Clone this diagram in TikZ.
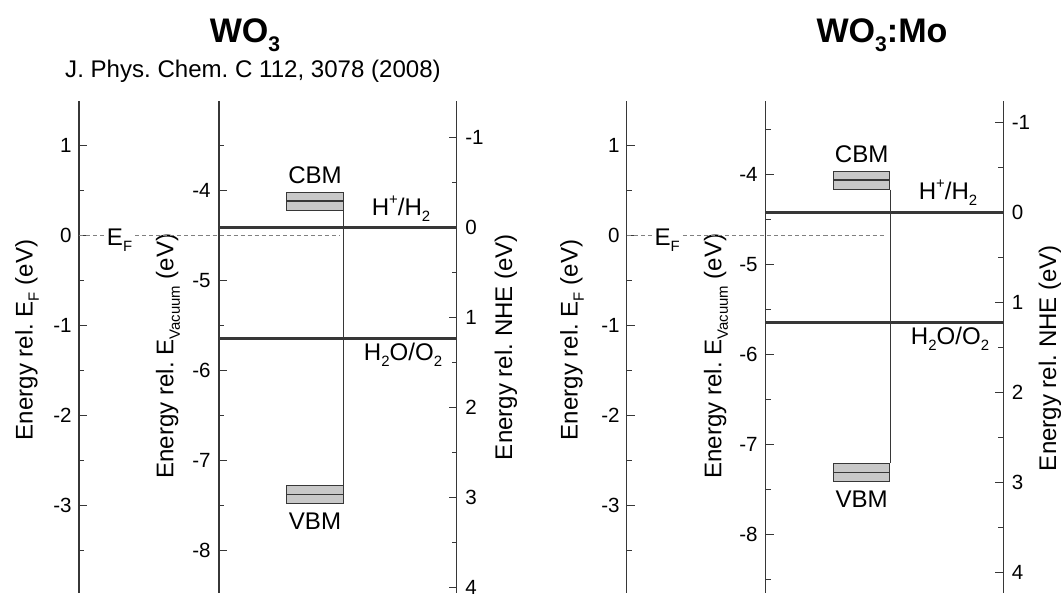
\documentclass[tikz,border=0pt]{standalone}
\usepackage{fontspec}
\setmainfont{Liberation Sans}
\usepackage{graphicx}
\usetikzlibrary{positioning}
\frenchspacing
\definecolor{axisgray}{RGB}{55,55,55}
\definecolor{bandfill}{RGB}{200,200,200}
\tikzstyle{every node}=[font=\fontsize{13.7}{16}\selectfont]
\tikzstyle{axis}=[draw=axisgray,line width=0.85pt]
\tikzstyle{level}=[draw=axisgray,line width=1.5pt]
\tikzstyle{fermi}=[draw=gray,dash pattern=on 2.3pt off 1.7pt,line width=0.5pt]
\tikzstyle{band}=[draw=axisgray,fill=bandfill,line width=0.6pt,rectangle,minimum width=1.13cm,minimum height=0.354cm,inner sep=0pt]
\tikzstyle{ticklbl}=[font=\fontsize{11.7}{14}\selectfont,inner sep=0pt]
\tikzstyle{axlbl}=[rotate=90,inner sep=0pt]
\tikzstyle{title}=[font=\fontsize{19.4}{22}\selectfont\bfseries,anchor=base]
\newcommand{\dn}[1]{\raisebox{-0.5ex}{\scalebox{0.62}{#1}}}
\newcommand{\up}[1]{\raisebox{0.85ex}{\scalebox{0.62}{#1}}}

\begin{document}
\begin{tikzpicture}[x=0.02cm,y=-0.02cm]
\useasboundingbox (0,0) rectangle (1063,593);
% titles
\node[title] (wo) at (245,42) {WO\dn{3}};
\node[anchor=base] (jpc) at (253,77) {J. Phys. Chem. C 112, 3078 (2008)};
\node[title] (womo) at (882,42) {WO\dn{3}:Mo};

% ---- left panel: WO3 ----
\draw[axis] (79,101) -- (79,593);
\draw[axis] (219,101) -- (219,593);
\draw[axis] (456.7,101) -- (456.7,593);
\foreach \e in {1,0,-1,-2,-3} {
  \draw[axis] (79,{235.3-90*\e}) -- ++(8,0);
  \node[ticklbl,anchor=east] at (72,{235.3-90*\e}) {\e};
}
\foreach \e in {0.5,-0.5,-1.5,-2.5,-3.5}
  \draw[axis] (79,{235.3-90*\e}) -- ++(5,0);
\foreach \v in {-4,-5,-6,-7,-8} {
  \draw[axis] (219,{-169.3-90*\v}) -- ++(8,0);
  \node[ticklbl,anchor=east] at (211,{-169.3-90*\v}) {\v};
}
\foreach \v in {-3.5,-4.5,-5.5,-6.5,-7.5}
  \draw[axis] (219,{-169.3-90*\v}) -- ++(5,0);
\foreach \n in {-1,0,1,2,3,4} {
  \draw[axis] (456.7,{227.5+90*\n}) -- ++(-8,0);
  \node[ticklbl,anchor=west] at (465,{227.5+90*\n}) {\n};
}
\foreach \n in {-0.5,0.5,1.5,2.5,3.5}
  \draw[axis] (456.7,{227.5+90*\n}) -- ++(-5,0);
\node[axlbl] (efaxl) at (27,340) {Energy rel. E\dn{F} (eV)};
\node[axlbl] (vacaxl) at (168,356) {Energy rel. E\dn{Vacuum} (eV)};
\node[axlbl] (nheaxl) at (506,347) {Energy rel. NHE (eV)};

\draw[fermi] (79,235.5) -- (340,235.5);
\node[fill=white,inner sep=1.5pt,anchor=base west] (efl) at (104,245) {E\dn{F}};
\draw[level] (219,227.5) -- (456.7,227.5);
\draw[level] (219,338.3) -- (456.7,338.3);
\node[anchor=base] (hh) at (401,215) {H\up{+}/H\dn{2}};
\node[anchor=base] (ho) at (403,360) {H\dn{2}O/O\dn{2}};

\node[band] (cbm) at (315,201.2) {};
\node[band] (vbm) at (315,494.5) {};
\draw[line width=1pt,draw=axisgray] (cbm.west) -- (cbm.east);
\draw[line width=1pt,draw=axisgray] (vbm.west) -- (vbm.east);
\draw[draw=axisgray,line width=0.5pt] (cbm.south east) -- (vbm.north east);
\node[inner sep=0pt,above=0.155cm of cbm] (cbml) {CBM};
\node[inner sep=0pt,below=0.175cm of vbm] (vbml) {VBM};

% ---- right panel: WO3:Mo ----
\draw[axis] (626.7,101) -- (626.7,593);
\draw[axis] (765.7,101) -- (765.7,593);
\draw[axis] (1003.3,101) -- (1003.3,593);
\foreach \e in {1,0,-1,-2,-3} {
  \draw[axis] (626.7,{235.3-90*\e}) -- ++(8,0);
  \node[ticklbl,anchor=east] at (620,{235.3-90*\e}) {\e};
}
\foreach \e in {0.5,-0.5,-1.5,-2.5,-3.5}
  \draw[axis] (626.7,{235.3-90*\e}) -- ++(5,0);
\foreach \v in {-4,-5,-6,-7,-8} {
  \draw[axis] (765.7,{-185.3-90*\v}) -- ++(8,0);
  \node[ticklbl,anchor=east] at (758,{-185.3-90*\v}) {\v};
}
\foreach \v in {-3.5,-4.5,-5.5,-6.5,-7.5,-8.5}
  \draw[axis] (765.7,{-185.3-90*\v}) -- ++(5,0);
\foreach \n in {-1,0,1,2,3,4} {
  \draw[axis] (1003.3,{212.3+90*\n}) -- ++(-8,0);
  \node[ticklbl,anchor=west] at (1011.5,{212.3+90*\n}) {\n};
}
\foreach \n in {-0.5,0.5,1.5,2.5,3.5}
  \draw[axis] (1003.3,{212.3+90*\n}) -- ++(-5,0);
\node[axlbl] (efaxr) at (572,340) {Energy rel. E\dn{F} (eV)};
\node[axlbl] (vacaxr) at (716,356) {Energy rel. E\dn{Vacuum} (eV)};
\node[axlbl] (nheaxr) at (1050,358) {Energy rel. NHE (eV)};

\draw[fermi] (626.7,235.5) -- (886.7,235.5);
\node[fill=white,inner sep=1.5pt,anchor=base west] (efr) at (651.7,245) {E\dn{F}};
\draw[level] (765.7,212.3) -- (1003.3,212.3);
\draw[level] (765.7,322.3) -- (1003.3,322.3);
\node[anchor=base] (hhr) at (948,199) {H\up{+}/H\dn{2}};
\node[anchor=base] (hor) at (950,344) {H\dn{2}O/O\dn{2}};

\node[band] (cbmr) at (861.7,180.3) {};
\node[band] (vbmr) at (861.7,472.5) {};
\draw[line width=1pt,draw=axisgray] (cbmr.west) -- (cbmr.east);
\draw[line width=1pt,draw=axisgray] (vbmr.west) -- (vbmr.east);
\draw[draw=axisgray,line width=0.5pt] (cbmr.south east) -- (vbmr.north east);
\node[inner sep=0pt,above=0.155cm of cbmr] (cbmlr) {CBM};
\node[inner sep=0pt,below=0.175cm of vbmr] (vbmlr) {VBM};
\end{tikzpicture}
\end{document}
